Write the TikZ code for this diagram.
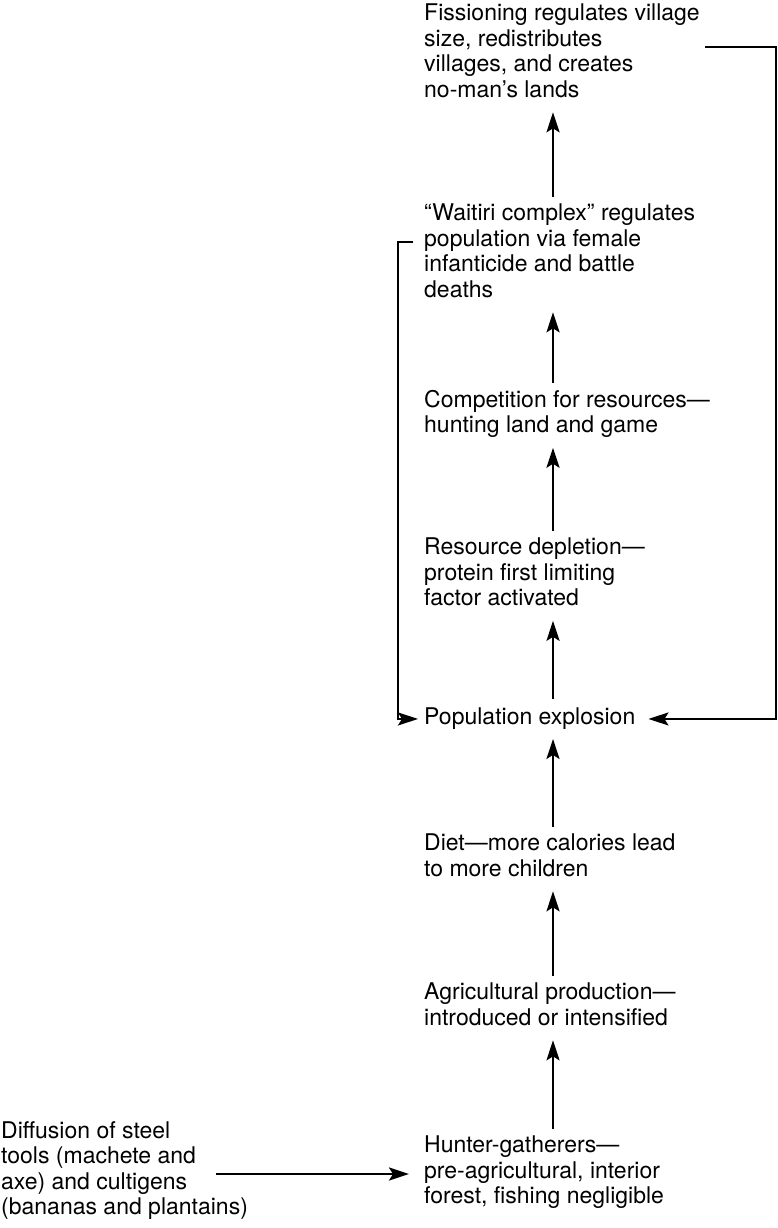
\documentclass[tikz,border=0pt]{standalone}
\usepackage{fontspec}
\setmainfont{TeX Gyre Heros}
\usetikzlibrary{arrows.meta}
\begin{document}
\begin{tikzpicture}[x=1pt, y=-1pt,
  box/.style={anchor=north west, inner sep=0pt, align=left,
    font=\fontsize{23}{25.5}\selectfont,
    execute at begin node=\strut, execute at end node=\strut},
  flow/.style={line width=2.5pt,
    -{Stealth[length=20pt, width=13pt, inset=4pt]},
    shorten <=7pt, shorten >=7pt}]
  \useasboundingbox (0,0) rectangle (777,1228);
  \node[box] (fiss) at (424,4) {Fissioning regulates village\\ size, redistributes\\ villages, and creates\\ no-man’s lands};
  \node[box] (wait) at (424,204) {“Waitiri complex” regulates\\ population via female\\ infanticide and battle\\ deaths};
  \node[box] (comp) at (424,390) {Competition for resources—\\ hunting land and game};
  \node[box] (res) at (424,538) {Resource depletion—\\ protein first limiting\\ factor activated};
  \node[box] (pop) at (424,706) {Population explosion};
  \node[box] (diet) at (424,834) {Diet—more calories lead\\ to more children};
  \node[box] (agri) at (424,983) {Agricultural production—\\ introduced or intensified};
  \node[box] (hunt) at (424,1136) {Hunter-gatherers—\\ pre-agricultural, interior\\ forest, fishing negligible};
  \node[box] (diff) at (1,1121) {Diffusion of steel\\ tools (machete and\\ axe) and cultigens\\ (bananas and plantains)};
  \coordinate (spine) at (553,0);
  \coordinate (fissout) at (705,47);
  \coordinate (waitout) at (413,242);
  \coordinate (diffout) at (216,1174);
  \draw[flow] (hunt.north -| spine) -- (agri.south -| spine);
  \draw[flow] (agri.north -| spine) -- (diet.south -| spine);
  \draw[flow] (diet.north -| spine) -- (pop.south -| spine);
  \draw[flow] (pop.north -| spine) -- (res.south -| spine);
  \draw[flow] (res.north -| spine) -- (comp.south -| spine);
  \draw[flow] (comp.north -| spine) -- (wait.south -| spine);
  \draw[flow] (wait.north -| spine) -- (fiss.south -| spine);
  \draw[flow, shorten <=0pt, shorten >=15pt] (diffout) -- (hunt.west |- diffout);
  \draw[flow, shorten <=0pt, shorten >=13pt] (fissout) -- (776,47) |- (pop.east);
  \draw[flow, shorten <=0pt, shorten >=6pt] (waitout) -- (398,242) |- (pop.west);
\end{tikzpicture}
\end{document}
